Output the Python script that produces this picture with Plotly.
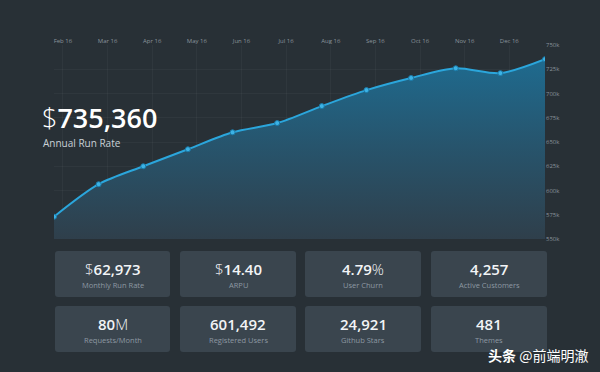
import plotly.graph_objects as go

# ---- data ----
months = ["Jan 16", "Feb 16", "Mar 16", "Apr 16", "May 16", "Jun 16", "Jul 16",
          "Aug 16", "Sep 16", "Oct 16", "Nov 16", "Dec 16"]
tick_labels = ["Feb 16", "Mar 16", "Apr 16", "May 16", "Jun 16", "Jul 16",
               "Aug 16", "Sep 16", "Oct 16", "Nov 16", "Dec 16"]
run_rate = [573000, 606500, 625000, 642500, 660000, 669500,
            687000, 703500, 716000, 726000, 721000, 735360]
y_ticks = [550000, 575000, 600000, 625000, 650000, 675000, 700000, 725000, 750000]
y_tick_labels = ["550k", "575k", "600k", "625k", "650k", "675k", "700k", "725k", "750k"]

headline_value = "735,360"
headline_label = "Annual Run Rate"
card_prefix = ["$", "$", "", "", "", "", "", ""]
card_main = ["62,973", "14.40", "4.79", "4,257", "80", "601,492", "24,921", "481"]
card_suffix = ["", "", "%", "", "M", "", "", ""]
card_labels = ["Monthly Run Rate", "ARPU", "User Churn", "Active Customers",
               "Requests/Month", "Registered Users", "Github Stars", "Themes"]

# ---- geometry (pixels) ----
W, H = 600, 372
L, R, T, B = 54, 545, 45, 239   # plot area edges


def px_x(p):
    return (p - L) / (R - L)


def px_y(p):
    return (B - p) / (B - T)


xs = list(range(len(months)))

fig = go.Figure()
fig.add_trace(go.Scatter(
    x=xs, y=run_rate, mode="lines+markers",
    line=dict(color="#2ba6dc", width=2, shape="spline", smoothing=0.8),
    marker=dict(size=5, color="#3cb3e6", line=dict(color="#1b7aa8", width=1)),
    fill="tozeroy",
    fillgradient=dict(type="vertical", start=550000, stop=740000,
                      colorscale=[[0, "#2f3f4b"], [0.5, "#27546c"], [1, "#1e6c91"]]),
    hoverinfo="skip", showlegend=False,
))

shapes = []
annotations = []

# cards
col_x = [(55, 170), (180, 296), (305, 421), (431, 547)]
row_y = [(251, 297), (306, 352)]
rad = 3
for i in range(8):
    r, c = divmod(i, 4)
    x0, x1 = col_x[c]
    y0, y1 = row_y[r]
    rx = rad / (R - L)
    ry = rad / (B - T)
    X0, X1 = px_x(x0), px_x(x1)
    Yt, Yb = px_y(y0), px_y(y1)
    path = (f"M {X0+rx},{Yt} L {X1-rx},{Yt} Q {X1},{Yt} {X1},{Yt-ry} "
            f"L {X1},{Yb+ry} Q {X1},{Yb} {X1-rx},{Yb} L {X0+rx},{Yb} "
            f"Q {X0},{Yb} {X0},{Yb+ry} L {X0},{Yt-ry} Q {X0},{Yt} {X0+rx},{Yt} Z")
    shapes.append(dict(type="path", xref="paper", yref="paper", path=path,
                       fillcolor="#3a454e", line=dict(width=0), layer="below"))
    cx = (x0 + x1) / 2
    txt = ""
    if card_prefix[i]:
        txt += f"<span style='font-weight:300'>{card_prefix[i]}</span>"
    txt += f"<span style='font-weight:600'>{card_main[i]}</span>"
    if card_suffix[i]:
        txt += f"<span style='font-weight:300'>{card_suffix[i]}</span>"
    annotations.append(dict(
        x=px_x(cx), y=px_y(y0 + 17.5), xref="paper", yref="paper",
        text=txt, showarrow=False, xanchor="center", yanchor="middle", borderpad=0,
        font=dict(family="Open Sans", size=15, color="#f2f4f6")))
    annotations.append(dict(
        x=px_x(cx), y=px_y(y0 + 33.5), xref="paper", yref="paper",
        text=card_labels[i], showarrow=False, xanchor="center", yanchor="middle", borderpad=0,
        font=dict(family="Open Sans", size=7.5, color="#8d98a2")))

# headline
annotations.append(dict(
    x=px_x(41), y=px_y(117), xref="paper", yref="paper", xanchor="left", yanchor="middle",
    text=f"<span style='font-weight:300'>$</span><span style='font-weight:600'>{headline_value}</span>",
    showarrow=False, borderpad=0, font=dict(family="Open Sans", size=27, color="#ffffff")))
annotations.append(dict(
    x=px_x(42), y=px_y(142.5), xref="paper", yref="paper", xanchor="left", yanchor="middle",
    text=headline_label, showarrow=False, borderpad=0,
    font=dict(family="Open Sans", size=10, color="#c9d0d6")))

# watermark
annotations.append(dict(
    x=px_x(589), y=px_y(355), xref="paper", yref="paper", xanchor="right", yanchor="middle",
    text="<b>头条</b> @前端明澈", showarrow=False, borderpad=0,
    font=dict(family="Noto Sans CJK SC", size=14, color="#ffffff")))

fig.update_layout(
    width=W, height=H,
    margin=dict(l=L, r=W - R, t=T, b=H - B, pad=0),
    paper_bgcolor="#283036", plot_bgcolor="rgba(0,0,0,0)",
    font=dict(family="Open Sans", color="#7f8a93"),
    xaxis=dict(range=[0, len(months) - 1], side="top",
               tickvals=[i + 0.2 for i in range(len(tick_labels))], ticktext=tick_labels,
               tickfont=dict(size=6, color="#8a949c"), ticks="", showline=False,
               showgrid=True, gridcolor="rgba(255,255,255,0.035)", zeroline=False,
               fixedrange=True),
    yaxis=dict(range=[550000, 750000], side="right",
               tickvals=y_ticks, ticktext=y_tick_labels,
               tickfont=dict(size=6, color="#8a949c"), ticks="", showline=False,
               showgrid=True, gridcolor="rgba(255,255,255,0.035)", zeroline=False,
               fixedrange=True),
    shapes=shapes, annotations=annotations,
)

fig.write_html(
    "out.html",
    config={"displayModeBar": False},
    post_script="document.body.style.margin='0';document.body.style.padding='0';"
                "document.body.style.background='#283036';",
)
